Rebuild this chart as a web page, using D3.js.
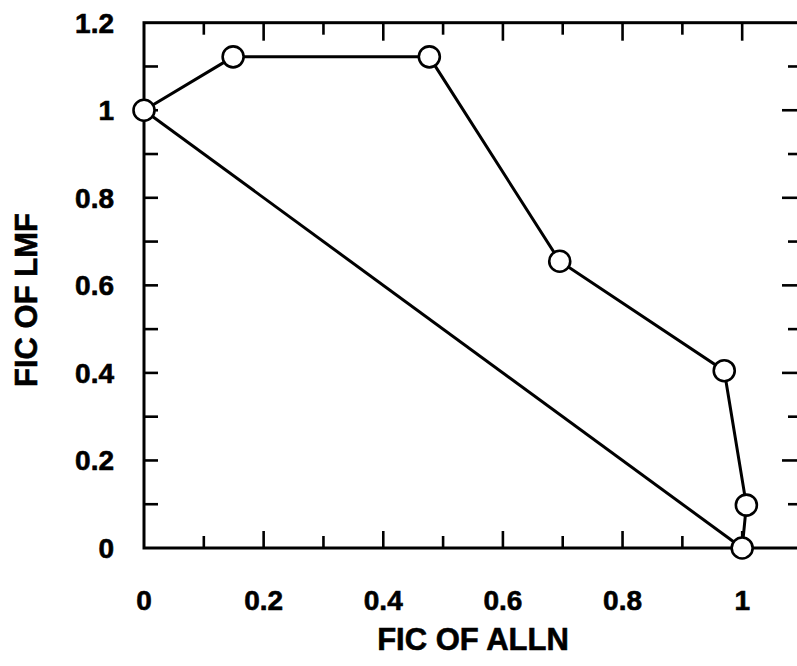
<!DOCTYPE html>
<html>
<head>
<meta charset="utf-8">
<script src="https://cdn.jsdelivr.net/npm/d3@7"></script>
<style>
  html, body { margin: 0; padding: 0; background: #fff; }
  svg { display: block; }
  text { font-family: "Liberation Sans", Arial, Helvetica, sans-serif; font-weight: bold; fill: #000; stroke: #000; stroke-width: 0.6; }
</style>
</head>
<body>
<svg id="chart" width="797" height="666"></svg>
<script>
// Isobologram: FIC of ALLN vs FIC of LMF
const ficALLN = [0, 0.149, 0.477, 0.695, 0.97, 1.007, 1.0];
const ficLMF  = [1.0, 1.122, 1.122, 0.655, 0.405, 0.098, 0];

// Line of additivity
const additivityX = [0, 1];
const additivityY = [1, 0];

const xTickValues = [0, 0.2, 0.4, 0.6, 0.8, 1];
const yTickValues = [0, 0.2, 0.4, 0.6, 0.8, 1, 1.2];
const xTitle = "FIC OF ALLN";
const yTitle = "FIC OF LMF";

const svg = d3.select("#chart");
const plotL = 144, plotR = 802, plotT = 22.7, plotB = 548;

const x = d3.scaleLinear().domain([0, 1.1]).range([plotL, plotR]);
const y = d3.scaleLinear().domain([0, 1.2]).range([plotB, plotT]);

const minorX = d3.range(1, 11).map(i => i / 10);
const minorY = d3.range(1, 12).map(i => i / 10);
const isMajor = v => Math.round(v * 10) % 2 === 0;

const ink = "#000";

// Inward ticks on all four sides
const g = svg.append("g");
g.selectAll(".tb").data(minorX).join("line")
  .attr("x1", d => x(d)).attr("x2", d => x(d))
  .attr("y1", plotB).attr("y2", d => plotB - (isMajor(d) ? 17 : 12))
  .attr("stroke", ink).attr("stroke-width", 2.6);
g.selectAll(".tt").data(minorX).join("line")
  .attr("x1", d => x(d)).attr("x2", d => x(d))
  .attr("y1", plotT).attr("y2", d => plotT + (isMajor(d) ? 18 : 12))
  .attr("stroke", ink).attr("stroke-width", 2.6);
g.selectAll(".tl").data(minorY).join("line")
  .attr("x1", plotL).attr("x2", plotL + 14)
  .attr("y1", d => y(d)).attr("y2", d => y(d))
  .attr("stroke", ink).attr("stroke-width", 2.6);
g.selectAll(".tr").data(minorY).join("line")
  .attr("x1", plotR).attr("x2", d => plotR - (isMajor(d) ? 20 : 14))
  .attr("y1", d => y(d)).attr("y2", d => y(d))
  .attr("stroke", ink).attr("stroke-width", 2.6);

// Frame
svg.append("rect")
  .attr("x", plotL).attr("y", plotT)
  .attr("width", plotR - plotL).attr("height", plotB - plotT)
  .attr("fill", "none").attr("stroke", ink).attr("stroke-width", 3);

// Tick labels
svg.selectAll(".xl").data(xTickValues).join("text")
  .attr("x", d => x(d)).attr("y", 610)
  .attr("text-anchor", "middle").attr("font-size", 28)
  .text(d => d3.format("~g")(d));
svg.selectAll(".yl").data(yTickValues).join("text")
  .attr("x", 114).attr("y", d => y(d) + 10)
  .attr("text-anchor", "end").attr("font-size", 28)
  .text(d => d3.format("~g")(d));

// Axis titles
svg.append("text").attr("x", 473).attr("y", 650)
  .attr("text-anchor", "middle").attr("font-size", 31).text(xTitle);
svg.append("text")
  .attr("transform", `translate(37,300) rotate(-90)`)
  .attr("text-anchor", "middle").attr("font-size", 31).text(yTitle);

// Additivity line
const line = d3.line().x(d => x(d[0])).y(d => y(d[1]));
svg.append("path")
  .datum(d3.zip(additivityX, additivityY))
  .attr("d", line).attr("fill", "none")
  .attr("stroke", ink).attr("stroke-width", 3);

// Isobole
const pts = d3.zip(ficALLN, ficLMF);
svg.append("path")
  .datum(pts).attr("d", line).attr("fill", "none")
  .attr("stroke", ink).attr("stroke-width", 3);
svg.selectAll(".pt").data(pts).join("circle")
  .attr("cx", d => x(d[0])).attr("cy", d => y(d[1]))
  .attr("r", 10.5).attr("fill", "#fff")
  .attr("stroke", ink).attr("stroke-width", 2.6);
</script>
</body>
</html>
